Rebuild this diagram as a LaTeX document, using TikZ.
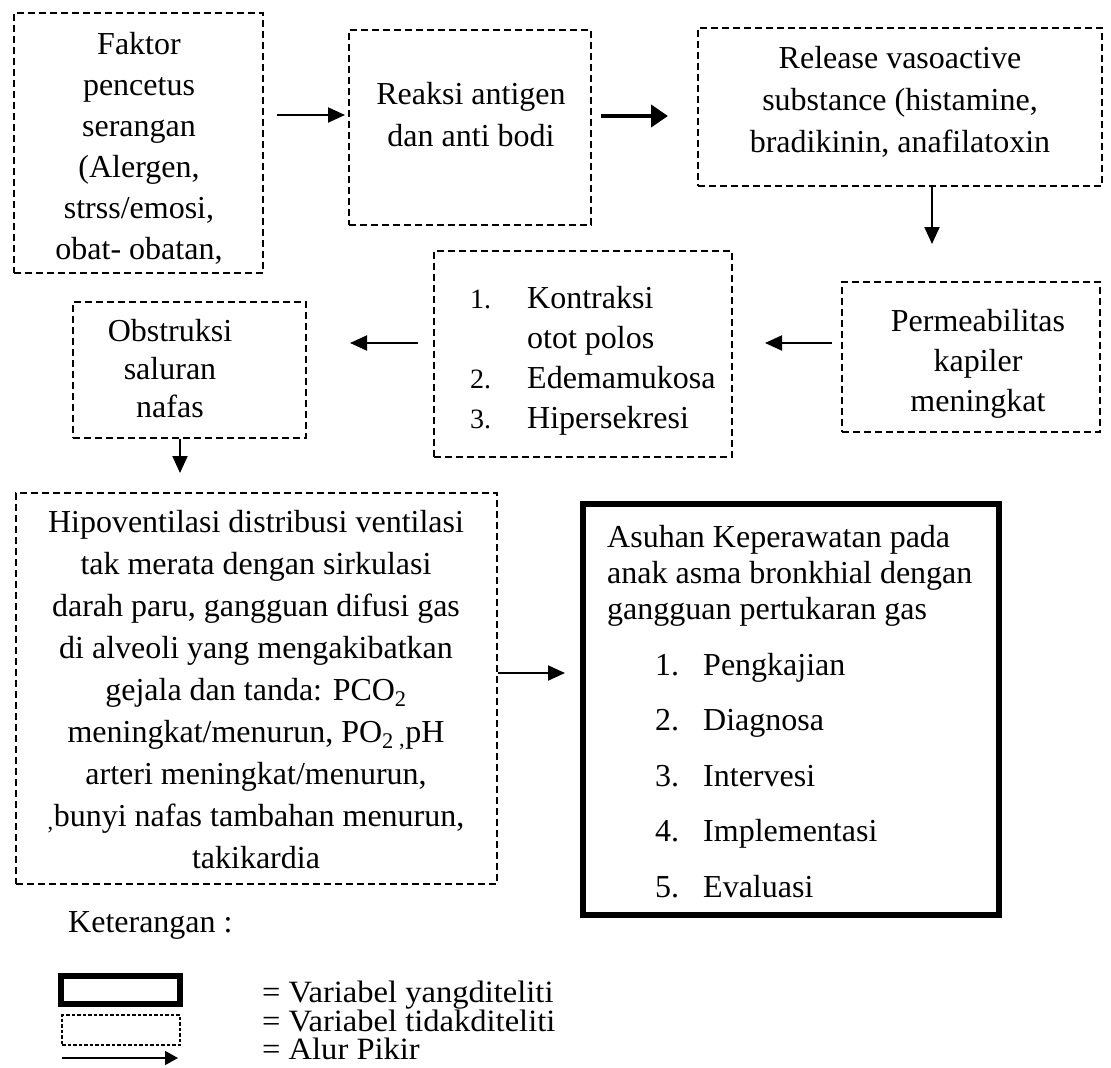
\documentclass[tikz,border=0pt]{standalone}
\usepackage{fontspec}
\setmainfont{Liberation Serif}
\usetikzlibrary{arrows.meta,calc}
\begin{document}
\begin{tikzpicture}[x=1pt,y=-1pt,
  dbox/.style={draw, line width=2.5pt, dash pattern=on 7pt off 4pt, inner sep=0pt, outer sep=0pt},
  tbox/.style={draw, line width=6pt, inner sep=0pt, outer sep=0pt},
  txt/.style={inner sep=0pt, align=center, font=\fontsize{32}{40}\selectfont},
  ltxt/.style={inner sep=0pt, anchor=base west, font=\fontsize{32}{38}\selectfont},
  legtxt/.style={inner sep=0pt, anchor=base west, font=\fontsize{31}{34}\selectfont},
  arr/.style={line width=2pt, -{Triangle[length=17pt,width=15pt]}},
  arrb/.style={line width=4pt, -{Triangle[length=17pt,width=22pt]}},
]
\useasboundingbox (0,0) rectangle (1111,1068);

% boxes
\node[dbox, minimum width=249pt, minimum height=260pt] (b1) at (138.5,143) {};
\node[dbox, minimum width=242pt, minimum height=195pt] (b2) at (470,127.5) {};
\node[dbox, minimum width=404pt, minimum height=158pt] (b3) at (900,107) {};
\node[dbox, minimum width=258pt, minimum height=150pt] (b4) at (971,357) {};
\node[dbox, minimum width=298pt, minimum height=206pt] (b5) at (583,354) {};
\node[dbox, minimum width=233pt, minimum height=136pt] (b6) at (189.5,370) {};
\node[dbox, minimum width=481pt, minimum height=391pt] (b7) at (256.5,688.5) {};
\node[tbox, minimum width=416pt, minimum height=411pt] (b8) at (791,709.5) {};

% texts
\node[txt, font=\fontsize{32}{41}\selectfont] (t1) at (139,148) {Faktor\\pencetus\\serangan\\(Alergen,\\strss/emosi,\\obat- obatan,};
\node[txt, font=\fontsize{32}{42}\selectfont] (t2) at (471,115) {Reaksi antigen\\dan anti bodi};
\node[txt, font=\fontsize{32}{42}\selectfont] (t3) at (900,102) {Release vasoactive\\substance (histamine,\\bradikinin, anafilatoxin};
\node[txt] (t4) at (978,364) {Permeabilitas\\kapiler\\meningkat};
\node[inner sep=0pt, anchor=west, font=\fontsize{32}{40}\selectfont] (t5) at (470,360)
  {\begin{tabular}{@{}p{57pt}@{}l@{}}{\fontsize{28}{40}\selectfont 1.}&Kontraksi\\&otot polos\\{\fontsize{28}{40}\selectfont 2.}&Edemamukosa\\{\fontsize{28}{40}\selectfont 3.}&Hipersekresi\end{tabular}};
\node[txt, font=\fontsize{32}{38}\selectfont] (t6) at (170,369) {Obstruksi\\saluran\\nafas};
\node[txt, font=\fontsize{32}{41.9}\selectfont] (t7) at (256,689.5) {Hipoventilasi distribusi ventilasi\\tak merata dengan sirkulasi\\darah paru, gangguan difusi gas\\di alveoli yang mengakibatkan\\gejala dan tanda: PCO\textsubscript{2}\\meningkat/menurun, PO\textsubscript{2}\,\textsubscript{,}pH\\arteri meningkat/menurun,\\\textsubscript{,}bunyi nafas tambahan menurun,\\takikardia};

\node[ltxt] (h1) at (607,547) {Asuhan Keperawatan pada};
\node[ltxt] (h2) at (607,583) {anak asma bronkhial dengan};
\node[ltxt] (h3) at (607,619) {gangguan pertukaran gas};
\node[ltxt] (i1) at (655,675) {\makebox[48pt][l]{1.}Pengkajian};
\node[ltxt] (i2) at (655,730.5) {\makebox[48pt][l]{2.}Diagnosa};
\node[ltxt] (i3) at (655,786) {\makebox[48pt][l]{3.}Intervesi};
\node[ltxt] (i4) at (655,841.5) {\makebox[48pt][l]{4.}Implementasi};
\node[ltxt] (i5) at (655,897) {\makebox[48pt][l]{5.}Evaluasi};

% arrows
\draw[arr]  ($(b1.east)+(14,-28)$) -- ($(b2.west)+(-4,-12.5)$);
\draw[arrb] ($(b2.east)+(10,-11.5)$) -- ($(b3.west)+(-30,9)$);
\draw[arr]  ($(b3.south)+(32,1)$) -- ($(b4.north)+(-39,-38)$);
\draw[arr]  ($(b4.west)+(-10,-14)$) -- ($(b5.east)+(33,-11)$);
\draw[arr]  ($(b5.west)+(-16,-11)$) -- ($(b6.east)+(44,-27)$);
\draw[arr]  ($(b6.south)+(-9.5,1)$) -- ($(b7.north)+(-76.5,-20)$);
\draw[arr]  ($(b7.east)+(1,-15.5)$) -- ($(b8.west)+(-18,-36.5)$);

% legend
\node[ltxt] (k) at (68,932) {Keterangan :};
\node[tbox, minimum width=119pt, minimum height=28pt] (lb1) at (120.5,990) {};
\node[draw, line width=1.2pt, dash pattern=on 3.5pt off 2pt, inner sep=0pt, outer sep=0pt, minimum width=118pt, minimum height=30pt] (lb2) at (121,1030) {};
\coordinate (la1) at (62,1058);
\coordinate (la2) at (178,1058);
\draw[line width=1.5pt, -{Triangle[length=13pt,width=14pt]}] (la1) -- (la2);
\node[legtxt] (l1) at (262,1002) {\scalebox{1.05}[1]{= Variabel yangditeliti}};
\node[legtxt] (l2) at (262,1031) {\scalebox{1.05}[1]{= Variabel tidakditeliti}};
\node[legtxt] (l3) at (262,1059) {\scalebox{1.05}[1]{= Alur Pikir}};
\end{tikzpicture}
\end{document}
